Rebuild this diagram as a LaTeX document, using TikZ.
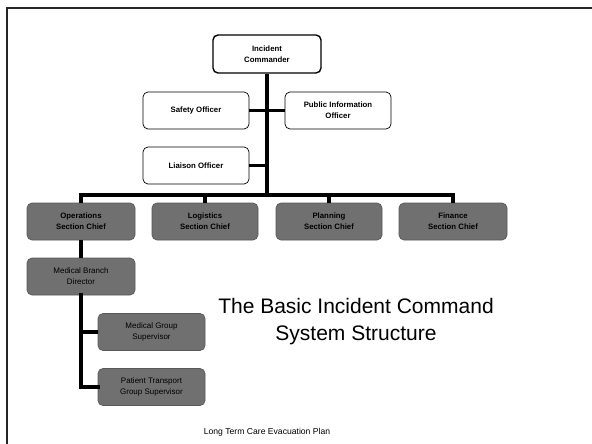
\documentclass[tikz,border=0pt]{standalone}
\usepackage{fontspec}
\setmainfont{Liberation Sans}
\begin{document}
\begin{tikzpicture}[x=1pt,y=-1pt,
  wbox/.style={draw=black,line width=0.7pt,fill=white,rounded corners=5pt,align=center,
    minimum width=106pt,minimum height=37pt,inner sep=0pt,font=\fontsize{7.8}{11}\selectfont\bfseries},
  gbox/.style={draw=black!65,line width=0.7pt,fill=black!56,rounded corners=5pt,align=center,
    minimum width=108pt,minimum height=37pt,inner sep=0pt,font=\fontsize{7.8}{11}\selectfont\bfseries},
  gboxr/.style={gbox,font=\fontsize{8}{11}\selectfont},
  conn/.style={line width=3.8pt,black},
  frameline/.style={line width=2.2pt,black!85}]
\useasboundingbox (0,0) rectangle (592,444);
\fill[white] (0,0) rectangle (592,444);
% frame
\draw[frameline] (7,444) -- (7,8) -- (592,8);
% nodes
\node[wbox,line width=1.4pt,minimum width=108pt,minimum height=38pt] (ic) at (267,54) {Incident\\Commander};
\node[wbox] (so) at (196,110.5) {Safety Officer};
\node[wbox] (pio) at (338,110.5) {Public Information\\Officer};
\node[wbox] (lo) at (196,165.5) {Liaison Officer};
\coordinate (bus) at (267,195);
\node[gbox] (ops) at (81,221.5) {Operations\\Section Chief};
\node[gbox,minimum width=106pt] (log) at (205,221.5) {Logistics\\Section Chief};
\node[gbox,minimum width=106pt] (pln) at (329,221.5) {Planning\\Section Chief};
\node[gbox] (fin) at (453,221.5) {Finance\\Section Chief};
\node[gboxr] (mbd) at (81,276.5) {Medical Branch\\Director};
\node[gboxr,minimum width=107pt] (mgs) at (151.5,332) {Medical Group\\Supervisor};
\node[gboxr,minimum width=107pt] (pts) at (151.5,387) {Patient Transport\\Group Supervisor};
% connectors
\begin{scope}[on background layer/.style={}]
\end{scope}
\draw[conn] (ic.south) -- (bus);
\draw[conn] (so.east) -- (so.east -| ic.south);
\draw[conn] (pio.west) -- (pio.west -| ic.south);
\draw[conn] (lo.east) -- (lo.east -| ic.south);
\draw[conn,line cap=rect] (ops.north |- bus) -- (fin.north |- bus);
\draw[conn] (ops.north |- bus) -- (ops.north);
\draw[conn] (log.north |- bus) -- (log.north);
\draw[conn] (pln.north |- bus) -- (pln.north);
\draw[conn] (fin.north |- bus) -- (fin.north);
\draw[conn] (ops.south) -- (mbd.north);
\draw[conn,line cap=rect] (mbd.south) -- (mbd.south |- pts.west) -- (pts.west);
\draw[conn] (mbd.south |- mgs.west) -- (mgs.west);
% texts
\node[align=center,font=\fontsize{21}{27}\selectfont] (title) at (356,322) {The Basic Incident Command\\System Structure};
\node[font=\fontsize{8.6}{10}\selectfont] (foot) at (267,432) {Long Term Care Evacuation Plan};
\end{tikzpicture}
\end{document}
